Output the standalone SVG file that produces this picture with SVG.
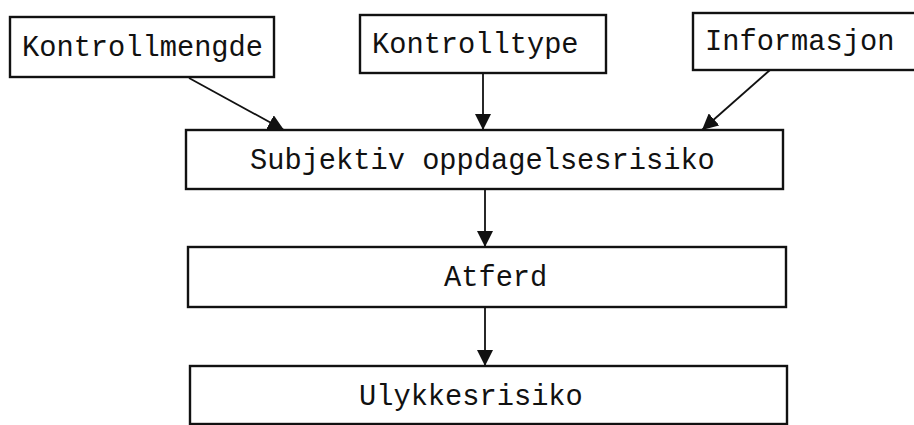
<svg xmlns="http://www.w3.org/2000/svg" width="914" height="425" viewBox="0 0 914 425">
<defs>
<style>
.box{fill:#fff;stroke:#111;stroke-width:2.4}
.lbl{font-family:"Liberation Mono","DejaVu Sans Mono",monospace;font-size:28.7px;fill:#111}
.edge{stroke:#111;stroke-width:1.8;fill:none}
</style>
<marker id="ah" viewBox="0 0 10 10" refX="10" refY="5" markerWidth="16" markerHeight="16" markerUnits="userSpaceOnUse" orient="auto">
<path d="M0,0 L10,5 L0,10 Z" fill="#111"/>
</marker>
</defs>
<rect width="914" height="425" fill="#fff"/>
<g id="n-kontrollmengde">
<rect class="box" x="10" y="17" width="264" height="60"/>
<text class="lbl" x="22" y="56">Kontrollmengde</text>
</g>
<g id="n-kontrolltype">
<rect class="box" x="360" y="15" width="246" height="58"/>
<text class="lbl" x="372" y="53">Kontrolltype</text>
</g>
<g id="n-informasjon">
<rect class="box" x="693" y="13" width="230" height="57"/>
<text class="lbl" x="705" y="50">Informasjon</text>
</g>
<g id="n-subjektiv">
<rect class="box" x="186" y="130" width="597" height="59"/>
<text class="lbl" x="250" y="169">Subjektiv oppdagelsesrisiko</text>
</g>
<g id="n-atferd">
<rect class="box" x="188" y="247" width="598" height="60"/>
<text class="lbl" x="444" y="286">Atferd</text>
</g>
<g id="n-ulykkesrisiko">
<rect class="box" x="190" y="366" width="597" height="58"/>
<text class="lbl" x="359" y="405">Ulykkesrisiko</text>
</g>
<g id="connectors">
<line class="edge" x1="189" y1="78" x2="284" y2="130" marker-end="url(#ah)"/>
<line class="edge" x1="483" y1="73" x2="483" y2="130" marker-end="url(#ah)"/>
<line class="edge" x1="770" y1="70" x2="702" y2="130" marker-end="url(#ah)"/>
<line class="edge" x1="485" y1="189" x2="485" y2="247" marker-end="url(#ah)"/>
<line class="edge" x1="485" y1="307" x2="485" y2="366" marker-end="url(#ah)"/>
</g>
</svg>
